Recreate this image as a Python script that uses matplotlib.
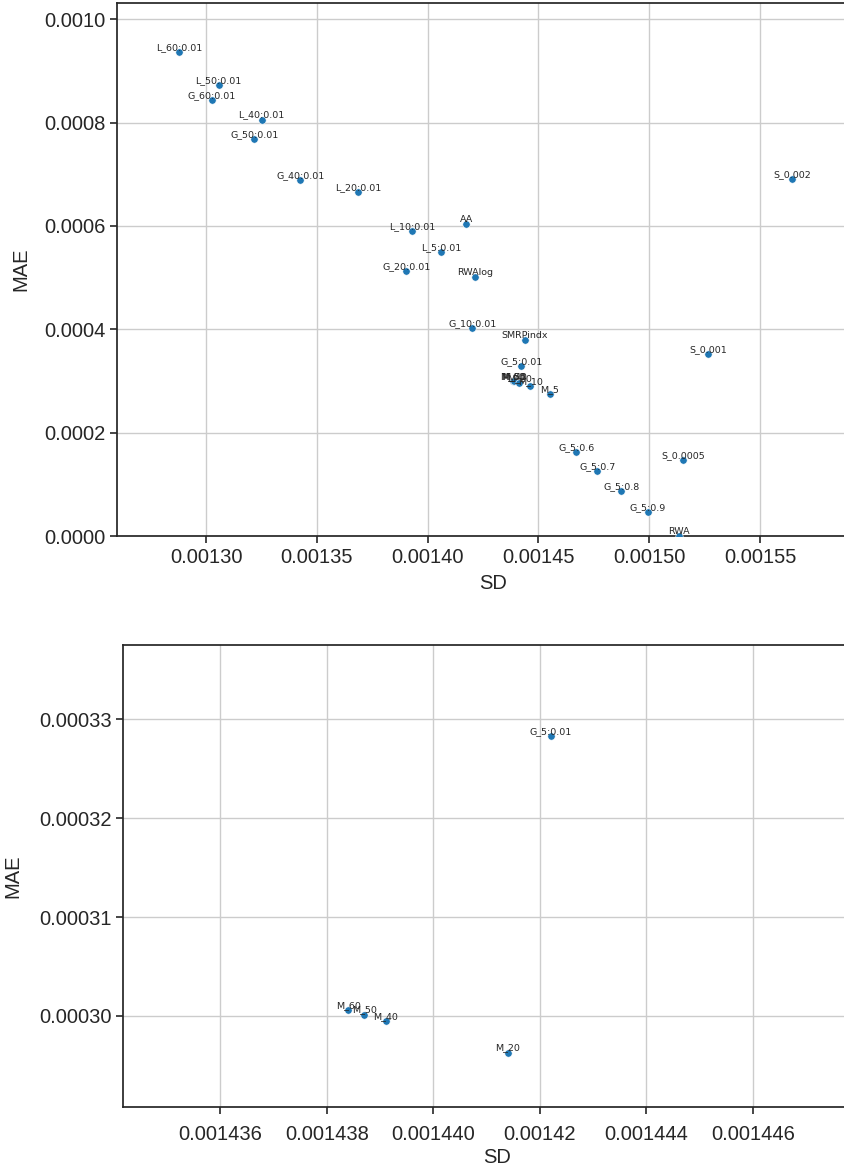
import matplotlib
matplotlib.use("Agg")
import matplotlib.pyplot as plt

# model results: standard deviation vs mean absolute error
names = ["L_60:0.01", "L_50:0.01", "G_60:0.01", "L_40:0.01", "G_50:0.01",
         "G_40:0.01", "L_20:0.01", "L_10:0.01", "AA", "L_5:0.01",
         "G_20:0.01", "RWAlog", "G_10:0.01", "SMRPindx", "G_5:0.01",
         "M_60", "M_50", "M_40", "M_20", "M_10", "M_5",
         "G_5:0.6", "G_5:0.7", "G_5:0.8", "G_5:0.9", "RWA",
         "S_0.0005", "S_0.001", "S_0.002"]
sd = [0.0012877, 0.0013057, 0.0013027, 0.0013251, 0.0013218,
      0.0013426, 0.0013687, 0.0013931, 0.0014175, 0.0014062,
      0.0013903, 0.0014213, 0.0014202, 0.0014437, 0.0014422,
      0.0014384, 0.0014387, 0.0014391, 0.0014414, 0.0014464, 0.0014552,
      0.0014670, 0.0014766, 0.0014873, 0.0014993, 0.0015136,
      0.0015154, 0.0015264, 0.0015645]
mae = [0.000937, 0.000872, 0.000843, 0.000806, 0.000768,
       0.000689, 0.000665, 0.000590, 0.000603, 0.000550,
       0.000512, 0.000502, 0.000403, 0.000380, 0.0003283,
       0.0003006, 0.00030015, 0.0002995, 0.0002963, 0.000290, 0.000274,
       0.0001626, 0.0001265, 0.0000871, 0.0000458, 0.0,
       0.0001465, 0.000352, 0.000690]

top_xticks = [0.00130, 0.00135, 0.00140, 0.00145, 0.00150, 0.00155]
top_xlabels = ["0.00130", "0.00135", "0.00140", "0.00145", "0.00150", "0.00155"]
top_yticks = [0.0, 0.0002, 0.0004, 0.0006, 0.0008, 0.0010]
top_ylabels = ["0.0000", "0.0002", "0.0004", "0.0006", "0.0008", "0.0010"]

zoom_xticks = [0.001436, 0.001438, 0.001440, 0.001442, 0.001444, 0.001446]
zoom_xlabels = ["0.001436", "0.001438", "0.001440", "0.00142", "0.001444", "0.001446"]
zoom_yticks = [0.00030, 0.00031, 0.00032, 0.00033]
zoom_ylabels = ["0.00030", "0.00031", "0.00032", "0.00033"]

plt.rcParams.update({
    "font.family": ["Liberation Sans", "DejaVu Sans"],
    "font.size": 14,
    "axes.edgecolor": "#262626",
    "axes.linewidth": 1.25,
    "axes.labelcolor": "#262626",
    "xtick.color": "#262626",
    "ytick.color": "#262626",
    "xtick.major.size": 5,
    "ytick.major.size": 5,
    "xtick.major.width": 1.2,
    "ytick.major.width": 1.2,
    "grid.color": "#cccccc",
    "grid.linewidth": 1.0,
})

fig = plt.figure(figsize=(8.45, 11.71), dpi=100)
ax1 = fig.add_axes([0.13846, 0.54227, 0.8911, 0.45517])
ax2 = fig.add_axes([0.14604, 0.05465, 0.88355, 0.39453])


def draw(ax, xlim, ylim, xt, xl, yt, yl, xpad, xlabpad, ylabpad):
    ax.set_axisbelow(True)
    ax.grid(True)
    ax.scatter(sd, mae, s=28, color="#1f77b4", edgecolors="white",
               linewidths=0.4, zorder=3)
    for n, x, y in zip(names, sd, mae):
        ax.annotate(n, (x, y), ha="center", va="bottom", fontsize=6.8,
                    family="DejaVu Sans", color="#262626", zorder=4)
    ax.set_xlim(*xlim)
    ax.set_ylim(*ylim)
    ax.set_xticks(xt)
    ax.set_xticklabels(xl, fontsize=14.5)
    ax.set_yticks(yt)
    ax.set_yticklabels(yl, fontsize=14.5)
    ax.tick_params(axis="x", pad=xpad)
    ax.set_xlabel("SD", fontsize=14.5, labelpad=xlabpad)
    ax.set_ylabel("MAE", fontsize=14.5, labelpad=ylabpad)
    ax.spines["right"].set_visible(False)


draw(ax1, (0.0012598, 0.0015996), (0.0, 0.0010316),
     top_xticks, top_xlabels, top_yticks, top_ylabels, 3.5, 5, 10)
draw(ax2, (0.0014341767, 0.0014482), (0.0002908, 0.0003375),
     zoom_xticks, zoom_xlabels, zoom_yticks, zoom_ylabels, 8, 3, 12)

fig.savefig("out.png", dpi=100)
